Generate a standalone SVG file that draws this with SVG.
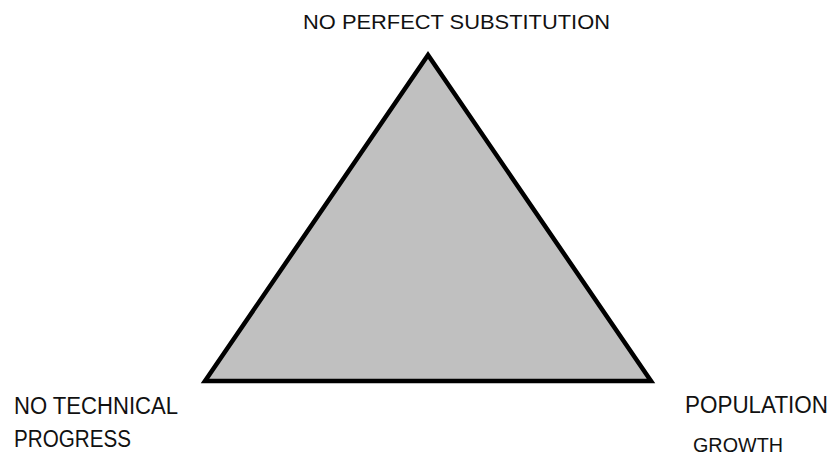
<svg xmlns="http://www.w3.org/2000/svg" width="832" height="455" viewBox="0 0 832 455">
<style>
.lbl{font-family:"Liberation Sans","Open Sans",Arial,sans-serif;fill:#111;}
.tri{fill:#c0c0c0;stroke:#000;stroke-width:4.5;stroke-linejoin:miter;}
</style>
<rect width="832" height="455" fill="#fff"/>
<g id="triangle">
<polygon class="tri" points="428,55 205,381 651,381"/>
</g>
<g id="connectors"></g>
<g id="top">
<text class="lbl" x="303" y="29" font-size="21" textLength="307" lengthAdjust="spacingAndGlyphs">NO PERFECT SUBSTITUTION</text>
</g>
<g id="left">
<text class="lbl" x="14" y="414" font-size="23" textLength="164" lengthAdjust="spacingAndGlyphs">NO TECHNICAL</text>
<text class="lbl" x="14" y="447" font-size="23" textLength="117" lengthAdjust="spacingAndGlyphs">PROGRESS</text>
</g>
<g id="right">
<text class="lbl" x="685" y="413" font-size="23" textLength="143" lengthAdjust="spacingAndGlyphs">POPULATION</text>
<text class="lbl" x="693" y="452" font-size="21" textLength="90" lengthAdjust="spacingAndGlyphs">GROWTH</text>
</g>
</svg>
